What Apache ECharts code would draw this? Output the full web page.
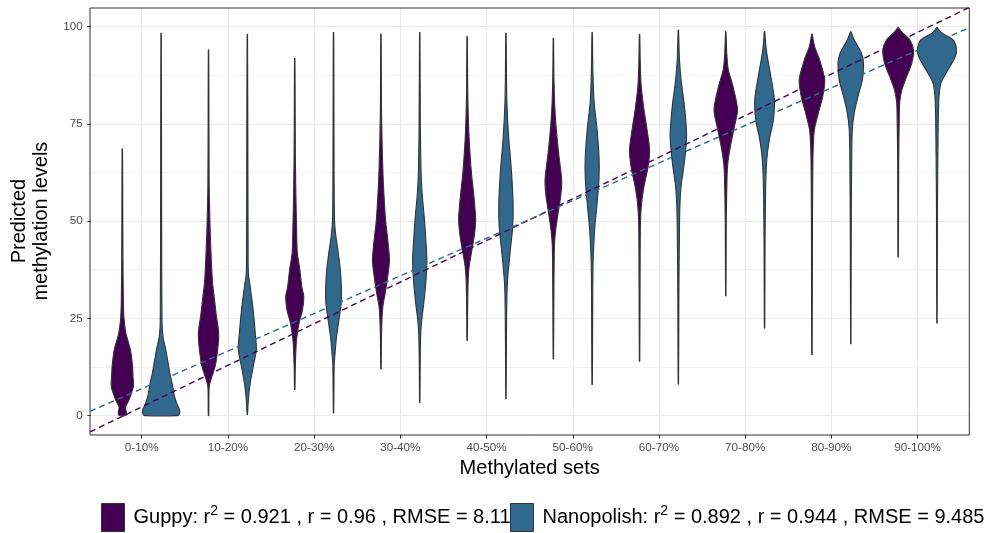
<!DOCTYPE html>
<html>
<head>
<meta charset="utf-8">
<script src="https://cdn.jsdelivr.net/npm/echarts@6/dist/echarts.min.js"></script>
<style>
  html, body { margin: 0; padding: 0; background: #ffffff; }
  #chart { width: 987px; height: 533px; }
</style>
</head>
<body>
<div id="chart"></div>
<script>
// ---- data ---------------------------------------------------------------
const categories = ['0-10%', '10-20%', '20-30%', '30-40%', '40-50%',
                    '50-60%', '60-70%', '70-80%', '80-90%', '90-100%'];
const yTicks = [0, 25, 50, 75, 100];

// Violin density profiles per methylated set: [predicted level, relative density]
const guppyProfiles = [
  [[0,6],[0.7,8],[2.2,6.3],[4.1,13.3],[7.5,21.7],[10,21],[12.7,20],[17,15.7],[21.2,7],[25.5,3],[29.8,2],[40,1.2],[55,0.8],[68.6,0.4]],
  [[0,0.5],[6,0.8],[8,2],[10,6.5],[12.7,13],[16,17],[20.4,20],[23,18.5],[25.5,15.5],[29.8,11.7],[34,8],[38.4,6],[43,4.5],[47,3.3],[54,2],[60,1.2],[75,0.8],[94,0.4]],
  [[6.7,0.4],[12,1],[16,2],[18.7,3],[22,6],[24.7,10],[27,15],[30.6,17.7],[33,14],[37.5,10],[42,5],[50,3.3],[59,2],[67.5,1.2],[80,0.8],[91.9,0.4]],
  [[12,0.4],[20,1],[24.7,2],[28,3.7],[31.5,8.3],[35.8,13.3],[40,16.7],[46,12.7],[50.3,9],[59,5],[65,3.3],[71.7,2],[80,1],[98.1,0.4]],
  [[19.3,0.4],[28,1],[35,2],[38.4,4],[41.8,8.3],[46,13.7],[50.3,16.7],[56.3,13.3],[63,8],[71.7,3.7],[77.7,2],[85,1],[97.4,0.4]],
  [[14.6,0.4],[30,1],[43.5,2],[47.8,4.7],[52.1,9.3],[56.3,14.3],[60.6,16.3],[67.5,10.3],[74.3,5.3],[80.3,2.5],[88,1],[97,0.4]],
  [[14,0.4],[35,1],[48,1.5],[52,2.5],[55.5,4.7],[59.8,10],[64,16.7],[68.3,19.7],[73.5,14.7],[78.6,8.7],[84.6,3.3],[90,1.5],[98,0.4]],
  [[30.8,0.4],[50,1],[61.5,2.5],[64.9,4],[69.2,9],[73.5,15.7],[78.6,23],[84.6,14.3],[88.9,5],[93,2],[98.7,0.4]],
  [[15.7,0.4],[50,1],[65,1.8],[69.2,2.5],[73.5,4.7],[77.7,12.3],[82,21],[86.3,25],[91.4,15],[94.9,5],[97,2],[98.1,0.4]],
  [[40.8,0.4],[65,1],[76,2],[80.5,3],[83.8,7.3],[87.2,16.7],[90.6,26.7],[94,30],[96.6,22.7],[98.3,9.3],[99.3,3],[99.8,0.4]]
];
const nanopolishProfiles = [
  [[0,32],[0.5,36],[1.5,36],[3,31],[5,26],[8,22],[11,17],[14,13],[17,9],[20,4],[23,2],[30,1.5],[50,1],[98.3,0.4]],
  [[0.3,0.4],[3,1.5],[5,2.7],[8.4,5.7],[12.7,11.7],[17,17.7],[21,15.7],[25.5,12.7],[29.8,9],[34,4.7],[36.6,2],[45,1.5],[60,1.2],[98,0.4]],
  [[0.7,0.4],[10,1],[13.5,1.5],[16,3],[20.4,6],[24.7,10.7],[29,15],[33.2,15.3],[37.5,13.3],[41.8,9.3],[46,4.7],[50,2],[60,1.2],[80,0.8],[98.5,0.4]],
  [[3.4,0.4],[15,1],[21.2,2],[24.7,4],[29,8],[34.9,12.3],[40,14],[43.5,12.7],[50.3,9.3],[57,4.7],[63,2.5],[75,1.2],[98.5,0.4]],
  [[4.3,0.4],[20,1],[31.5,2],[35.8,3.7],[41.8,8],[48.6,13.3],[54.6,14],[63,10.7],[71.7,5.3],[80.3,2],[88,1],[98.3,0.4]],
  [[8,0.4],[25,1],[36.6,1.5],[41.8,2.5],[48.6,5.3],[54.6,9.7],[60.6,13.3],[65.8,13.7],[73.5,9.7],[80.3,4],[86,2],[92,1],[98.5,0.4]],
  [[8.1,0.4],[30,1],[46,2],[53.8,3],[58.9,5.3],[64,10.7],[69.2,15],[73,16],[80.3,11.3],[86.3,5.3],[92,2],[99.1,0.4]],
  [[22.5,0.4],[45,1],[55,1.8],[60.6,2.5],[65.8,4.3],[70.9,9.3],[76,17.3],[81.2,19.3],[87.2,12.3],[93.2,4.3],[96,2],[98.7,0.4]],
  [[18.5,0.4],[50,1],[68,2],[73.5,3],[77.7,6.7],[82,14],[86.3,22.7],[90.6,25],[93.2,21],[96.6,6.7],[98,2.5],[98.7,0.4]],
  [[23.8,0.4],[55,1],[70,2],[76,2.5],[78.6,3],[82.1,4],[85.5,7.7],[88.9,21.7],[92.3,36],[94.4,38],[96.6,31.7],[98.3,10],[99.3,3],[99.8,0.4]]
];

// Linear fits against set index (1..10): [slope, intercept]
const guppyFit = [10.70, -8.48];
const nanopolishFit = [9.67, -2.77];

// Legend statistics: r^2, r, RMSE
const guppyStats = ['0.921', '0.96', '8.11'];
const nanopolishStats = ['0.892', '0.944', '9.485'];

// ---- layout -------------------------------------------------------------
const W = 987, H = 533;
const panel = { left: 90, right: 969.3, top: 8, bottom: 435 };
const xRange = [0.4, 10.6];
const yRange = [-4.99, 104.79];
const FONT = "'Liberation Sans', Arial, Helvetica, sans-serif";
const PURPLE = '#440154';
const BLUE = '#31688E';
const OUTLINE = '#333333';
const GRID_LINE = '#EBEBEB';

const pxPerY = (panel.bottom - panel.top) / (yRange[1] - yRange[0]);
const pxPerX = (panel.right - panel.left) / (xRange[1] - xRange[0]);
const yPx = v => panel.bottom - (v - yRange[0]) * pxPerY;
const xPx = p => panel.left + (p - xRange[0]) * pxPerX;

const DODGE = 0.225;       // half of the 0.9 dodge width, in set units
const MAX_HALF = 0.225;    // half width of the widest violin
const maxDensity = Math.max(
  ...guppyProfiles.flat().map(p => p[1]),
  ...nanopolishProfiles.flat().map(p => p[1])
);

function violinRenderer(profiles, offset) {
  return function (params, api) {
    const pos = api.value(0) + offset;
    const prof = profiles[params.dataIndex];
    const right = [], left = [];
    for (const [v, d] of prof) {
      const hw = d / maxDensity * MAX_HALF;
      right.push(api.coord([pos + hw, v]));
      left.push(api.coord([pos - hw, v]));
    }
    const points = right.concat(left.reverse());
    return {
      type: 'polygon',
      shape: { points: points, smooth: 0.25 },
      style: { fill: api.visual('color'), stroke: OUTLINE, lineWidth: 1.1 }
    };
  };
}

function fitLine(fit) {
  return xRange.map(p => [p, fit[0] * p + fit[1]]);
}

function legendText(name, stats) {
  return '{g|}{t|' + name + ': r}{s|2}{t| = ' + stats[0] + ' , r = ' + stats[1] +
         ' , RMSE = ' + stats[2] + '}';
}
const legendRich = {
  g: { width: 4 },
  t: { fontSize: 20, color: '#000000', fontFamily: FONT, lineHeight: 26 },
  s: { fontSize: 14, color: '#000000', fontFamily: FONT, lineHeight: 16, verticalAlign: 'top' }
};

const chart = echarts.init(document.getElementById('chart'), null, { renderer: 'canvas' });

const option = {
  animation: false,
  backgroundColor: '#ffffff',
  textStyle: { fontFamily: FONT },
  grid: [
    // plotting panel
    { left: panel.left, right: W - panel.right, top: panel.top, bottom: H - panel.bottom,
      show: true, borderColor: OUTLINE, borderWidth: 1, backgroundColor: 'transparent', z: 3 },
    // y scale 0..100
    { left: panel.left, right: W - panel.right, top: yPx(100), bottom: H - yPx(0) },
    // category scale from first to last set
    { left: xPx(1), right: W - xPx(10), top: panel.top, bottom: H - panel.bottom }
  ],
  xAxis: [
    { gridIndex: 0, type: 'value', min: xRange[0], max: xRange[1], show: false },
    { gridIndex: 1, type: 'value', min: 0, max: 1, show: false },
    {
      gridIndex: 2, type: 'category', data: categories, boundaryGap: false,
      axisLine: { show: false },
      axisTick: { show: true, length: 3.7, interval: 0, lineStyle: { color: OUTLINE, width: 1 } },
      axisLabel: { interval: 0, fontSize: 11.7, color: '#4D4D4D', margin: 6.5, fontFamily: FONT },
      splitLine: { show: true, interval: 0, lineStyle: { color: GRID_LINE, width: 1.1 } },
      name: 'Methylated sets', nameLocation: 'middle', nameGap: 22,
      nameTextStyle: { fontSize: 20, color: '#000000', fontFamily: FONT }
    }
  ],
  yAxis: [
    { gridIndex: 0, type: 'value', min: yRange[0], max: yRange[1], show: false },
    {
      gridIndex: 1, type: 'value', min: yTicks[0], max: yTicks[yTicks.length - 1], interval: 25,
      axisLine: { show: false },
      axisTick: { show: true, length: 3.7, lineStyle: { color: OUTLINE, width: 1 } },
      axisLabel: { fontSize: 11.7, color: '#4D4D4D', margin: 8.3, fontFamily: FONT },
      splitLine: { show: true, lineStyle: { color: GRID_LINE, width: 1.1 } },
      minorTick: { show: false, splitNumber: 2 },
      minorSplitLine: { show: true, lineStyle: { color: GRID_LINE, width: 0.6 } },
      name: 'Predicted\nmethylation levels', nameLocation: 'middle', nameGap: 39, nameRotate: 90,
      nameTextStyle: { fontSize: 20, color: '#000000', fontFamily: FONT, lineHeight: 22, align: 'center' }
    },
    { gridIndex: 2, type: 'value', show: false }
  ],
  legend: [
    {
      data: [{ name: 'Guppy', itemStyle: { color: PURPLE, borderColor: OUTLINE, borderWidth: 1 } }],
      left: 101, top: 503, padding: 0, itemWidth: 23, itemHeight: 28, selectedMode: false,
      icon: 'rect',
      formatter: () => legendText('Guppy', guppyStats),
      textStyle: { rich: legendRich }
    },
    {
      data: [{ name: 'Nanopolish', itemStyle: { color: BLUE, borderColor: OUTLINE, borderWidth: 1 } }],
      left: 510, top: 503, padding: 0, itemWidth: 23, itemHeight: 28, selectedMode: false,
      icon: 'rect',
      formatter: () => legendText('Nanopolish', nanopolishStats),
      textStyle: { rich: legendRich }
    }
  ],
  series: [
    {
      name: 'Guppy', type: 'custom', xAxisIndex: 0, yAxisIndex: 0,
      itemStyle: { color: PURPLE },
      renderItem: violinRenderer(guppyProfiles, -DODGE),
      encode: { x: 0 },
      data: categories.map((c, i) => [i + 1]),
      z: 2
    },
    {
      name: 'Nanopolish', type: 'custom', xAxisIndex: 0, yAxisIndex: 0,
      itemStyle: { color: BLUE },
      renderItem: violinRenderer(nanopolishProfiles, DODGE),
      encode: { x: 0 },
      data: categories.map((c, i) => [i + 1]),
      z: 2
    },
    {
      name: 'Guppy fit', type: 'line', xAxisIndex: 0, yAxisIndex: 0,
      data: fitLine(guppyFit), symbol: 'none', silent: true, clip: true,
      lineStyle: { color: PURPLE, width: 1.4, type: [6, 4] }, z: 4
    },
    {
      name: 'Nanopolish fit', type: 'line', xAxisIndex: 0, yAxisIndex: 0,
      data: fitLine(nanopolishFit), symbol: 'none', silent: true, clip: true,
      lineStyle: { color: BLUE, width: 1.4, type: [6, 4] }, z: 4
    }
  ]
};

chart.setOption(option);
</script>
</body>
</html>
